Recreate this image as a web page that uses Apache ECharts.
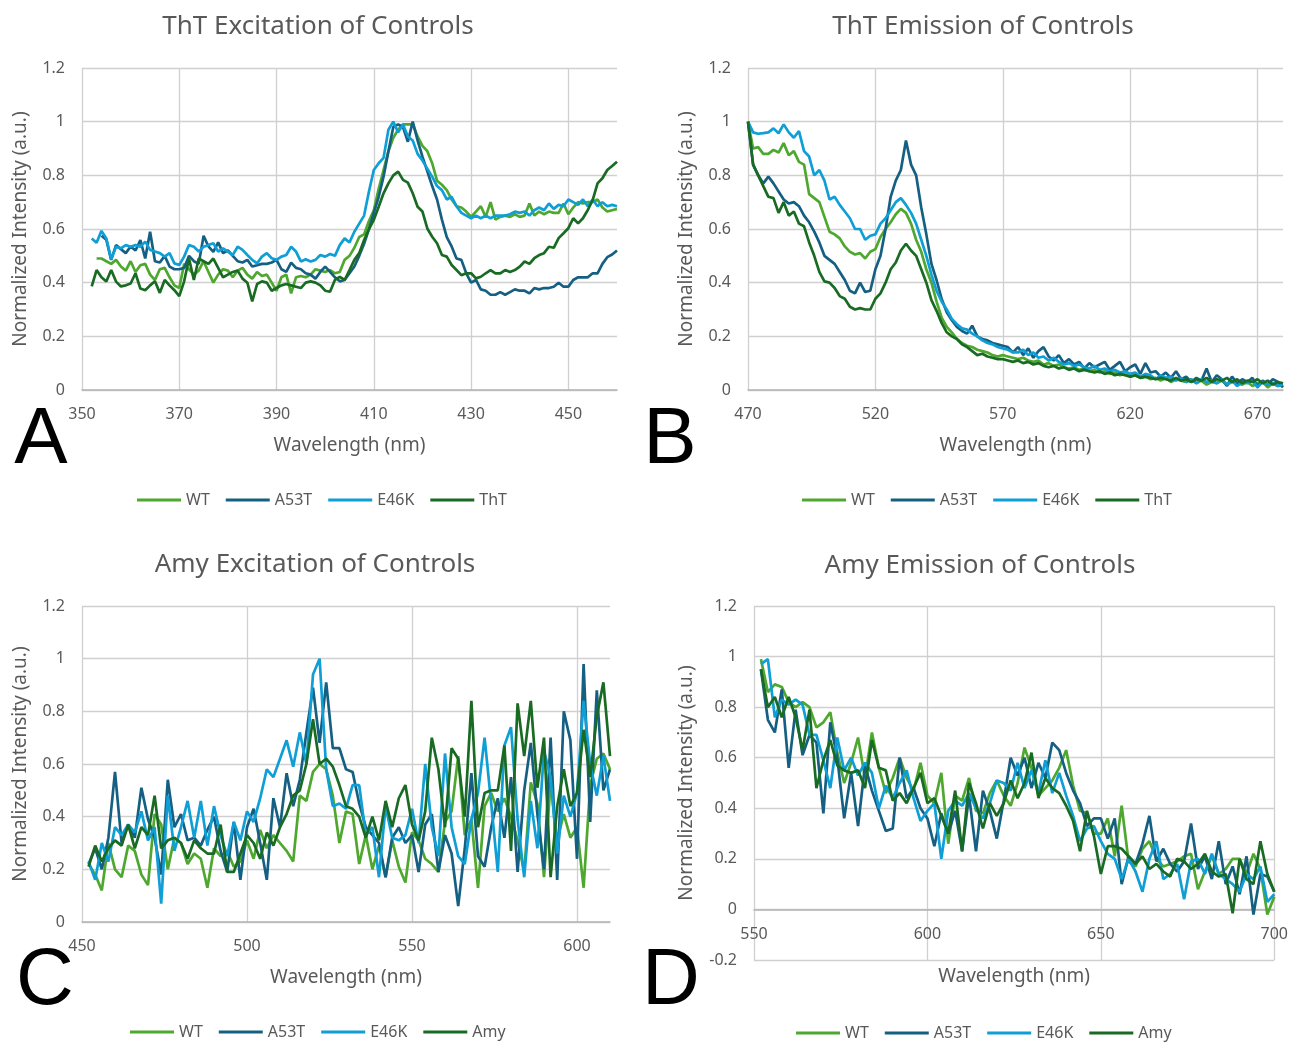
<!DOCTYPE html>
<html>
<head>
<meta charset="utf-8">
<script src="https://cdn.jsdelivr.net/npm/echarts@6.0.0/dist/echarts.min.js"></script>
<style>
  html, body { margin: 0; padding: 0; background: #fff; }
  #chart { width: 1291px; height: 1042px; }
</style>
</head>
<body>
<div id="chart"></div>
<script>
/* ---- data ---- */

/* A: ThT excitation, 1 nm steps */
var exThT_step = 1;
var exThT_start = { WT: 353, A53T: 354, E46K: 352, ThT: 352 };
var exThT_WT = [0.49,0.49,0.48,0.47,0.485,0.46,0.445,0.48,0.44,0.465,0.47,0.43,0.41,0.45,0.455,0.42,0.39,0.38,0.47,0.45,0.43,0.445,0.48,0.44,0.40,0.43,0.45,0.445,0.42,0.445,0.455,0.43,0.415,0.44,0.425,0.43,0.40,0.37,0.42,0.43,0.36,0.42,0.425,0.42,0.43,0.45,0.445,0.44,
  0.447,0.435,0.44,0.485,0.50,0.53,0.57,0.58,0.63,0.67,0.75,0.82,0.89,0.94,0.97,0.99,0.99,0.99,0.945,0.91,0.89,0.845,0.78,0.765,0.745,0.71,0.685,0.68,0.665,0.645,0.665,0.685,0.645,0.70,0.635,0.645,0.65,0.645,0.655,0.645,0.65,0.695,0.65,0.665,0.655,0.665,0.66,0.66,0.695,0.655,0.68,0.70,0.695,0.70,0.70,0.71,0.68,0.665,0.67,0.675];
var exThT_A53T = [0.575,0.56,0.485,0.54,0.525,0.51,0.535,0.52,0.559,0.49,0.59,0.48,0.475,0.50,0.46,0.45,0.45,0.455,0.50,0.48,0.47,0.575,0.535,0.515,0.55,0.51,0.52,0.50,0.48,0.475,0.485,0.46,0.465,0.47,0.47,0.475,0.485,0.45,0.44,0.475,0.455,0.45,0.435,0.43,0.415,0.44,0.46,
  0.44,0.42,0.405,0.41,0.435,0.46,0.50,0.545,0.60,0.66,0.72,0.795,0.89,0.98,0.99,0.98,0.925,1.0,0.93,0.87,0.815,0.76,0.71,0.635,0.57,0.535,0.49,0.485,0.435,0.40,0.41,0.375,0.37,0.355,0.355,0.365,0.355,0.365,0.375,0.37,0.37,0.36,0.38,0.375,0.38,0.38,0.385,0.40,0.385,0.385,0.41,0.42,0.42,0.42,0.435,0.435,0.47,0.495,0.505,0.52];
var exThT_E46K = [0.565,0.549,0.593,0.565,0.487,0.534,0.528,0.540,0.534,0.540,0.534,0.553,0.522,0.516,0.510,0.497,0.510,0.472,0.466,0.497,0.540,0.534,0.516,0.534,0.540,0.547,0.516,0.528,0.516,0.503,0.534,0.522,0.503,0.485,0.472,0.497,0.510,0.491,0.485,0.497,0.503,0.534,0.516,0.479,0.487,0.479,0.485,0.503,0.497,
  0.507,0.50,0.54,0.565,0.55,0.59,0.62,0.65,0.74,0.82,0.845,0.865,0.97,1.0,0.96,0.99,0.945,0.93,0.88,0.855,0.825,0.795,0.76,0.745,0.71,0.72,0.685,0.66,0.65,0.64,0.65,0.64,0.65,0.64,0.65,0.65,0.65,0.655,0.665,0.66,0.665,0.65,0.67,0.68,0.67,0.695,0.675,0.69,0.685,0.71,0.70,0.69,0.71,0.685,0.71,0.685,0.70,0.685,0.69,0.685];
var exThT_ThT = [0.386,0.447,0.42,0.404,0.447,0.404,0.386,0.39,0.397,0.435,0.378,0.372,0.39,0.405,0.362,0.41,0.39,0.372,0.35,0.405,0.49,0.41,0.49,0.48,0.47,0.49,0.455,0.42,0.43,0.44,0.445,0.415,0.40,0.33,0.395,0.405,0.40,0.37,0.38,0.39,0.395,0.39,0.385,0.38,0.40,0.405,0.40,0.39,0.37,
  0.366,0.41,0.422,0.41,0.447,0.485,0.51,0.559,0.60,0.634,0.683,0.733,0.77,0.80,0.814,0.783,0.773,0.733,0.683,0.665,0.602,0.571,0.547,0.503,0.497,0.466,0.447,0.428,0.435,0.435,0.416,0.422,0.435,0.447,0.435,0.435,0.447,0.44,0.447,0.46,0.479,0.47,0.491,0.503,0.51,0.534,0.53,0.566,0.584,0.603,0.64,0.621,0.64,0.671,0.708,0.77,0.789,0.82,0.835,0.851];

/* B: ThT emission, 2 nm steps from 470 */
var emThT_step = 2;
var emThT_start = { WT: 470, A53T: 470, E46K: 470, ThT: 470 };
var emThT_WT = [1.0,0.90,0.905,0.88,0.88,0.895,0.885,0.92,0.875,0.89,0.85,0.84,0.73,0.715,0.70,0.645,0.59,0.58,0.565,0.535,0.515,0.505,0.51,0.49,0.515,0.525,0.57,0.60,0.625,0.655,0.675,0.66,0.62,0.56,0.515,0.45,0.40,0.33,0.27,0.235,0.215,0.19,0.175,0.165,0.16,0.15,0.145,0.14,0.13,0.125,0.13,0.125,0.12,
  0.115,0.12,0.11,0.105,0.11,0.095,0.10,0.09,0.095,0.085,0.08,0.085,0.075,0.08,0.07,0.075,0.065,0.07,0.06,0.065,0.055,0.06,0.05,0.055,0.045,0.05,0.04,0.045,0.035,0.045,0.03,0.04,0.035,0.03,0.04,0.025,0.035,0.02,0.03,0.025,0.035,0.02,0.03,0.025,0.02,0.03,0.015,0.025,0.03,0.01,0.025,0.015,0.02];
var emThT_A53T = [1.0,0.84,0.80,0.77,0.795,0.77,0.74,0.71,0.695,0.70,0.685,0.65,0.625,0.59,0.55,0.50,0.485,0.47,0.44,0.41,0.37,0.36,0.40,0.365,0.37,0.45,0.50,0.60,0.72,0.78,0.82,0.93,0.84,0.80,0.68,0.58,0.47,0.41,0.34,0.29,0.26,0.235,0.22,0.21,0.24,0.20,0.19,0.185,0.175,0.17,0.165,0.16,0.14,
  0.16,0.13,0.155,0.12,0.145,0.16,0.125,0.11,0.13,0.10,0.115,0.095,0.105,0.08,0.10,0.085,0.095,0.105,0.075,0.09,0.105,0.07,0.085,0.095,0.06,0.10,0.065,0.07,0.05,0.065,0.045,0.07,0.04,0.05,0.03,0.045,0.035,0.08,0.03,0.055,0.04,0.015,0.05,0.025,0.04,0.03,0.045,0.015,0.035,0.02,0.04,0.03,0.01];
var emThT_E46K = [1.0,0.96,0.955,0.957,0.96,0.975,0.957,0.99,0.96,0.94,0.965,0.89,0.87,0.80,0.82,0.78,0.71,0.72,0.69,0.665,0.64,0.60,0.60,0.56,0.575,0.58,0.62,0.64,0.67,0.70,0.715,0.69,0.66,0.62,0.56,0.50,0.43,0.37,0.33,0.30,0.265,0.245,0.23,0.225,0.21,0.20,0.185,0.175,0.17,0.16,0.155,0.15,0.14,
  0.14,0.15,0.13,0.14,0.12,0.125,0.11,0.12,0.105,0.095,0.10,0.09,0.095,0.085,0.08,0.09,0.075,0.08,0.07,0.075,0.065,0.07,0.06,0.065,0.05,0.06,0.055,0.04,0.055,0.045,0.05,0.035,0.045,0.03,0.04,0.025,0.04,0.03,0.035,0.025,0.04,0.02,0.035,0.015,0.03,0.025,0.035,0.01,0.03,0.02,0.025,0.015,0.02];
var emThT_ThT = [1.0,0.84,0.80,0.76,0.72,0.715,0.66,0.70,0.65,0.665,0.62,0.61,0.55,0.50,0.44,0.405,0.40,0.38,0.35,0.34,0.31,0.30,0.305,0.30,0.30,0.34,0.36,0.40,0.45,0.475,0.52,0.545,0.52,0.50,0.45,0.40,0.335,0.295,0.25,0.215,0.20,0.19,0.17,0.16,0.145,0.13,0.135,0.125,0.12,0.115,0.115,0.11,0.105,
  0.11,0.10,0.105,0.095,0.10,0.09,0.085,0.09,0.08,0.085,0.075,0.08,0.07,0.075,0.07,0.065,0.07,0.06,0.065,0.055,0.06,0.055,0.05,0.055,0.045,0.05,0.045,0.04,0.045,0.04,0.035,0.045,0.035,0.04,0.03,0.04,0.035,0.045,0.03,0.04,0.035,0.045,0.03,0.04,0.025,0.035,0.03,0.04,0.025,0.035,0.02,0.03,0.025];

/* C: Amy excitation, 2 nm steps from 452 */
var exAmy_step = 2;
var exAmy_start = { WT: 452, A53T: 452, E46K: 452, Amy: 452 };
var exAmy_WT = [0.22,0.18,0.12,0.30,0.20,0.17,0.29,0.27,0.18,0.14,0.41,0.37,0.20,0.32,0.30,0.22,0.26,0.24,0.13,0.28,0.25,0.27,0.21,0.23,0.31,0.24,0.35,0.28,0.33,0.30,0.27,0.23,0.48,0.46,0.57,0.60,0.58,0.48,0.30,0.42,
  0.41,0.22,0.33,0.20,0.29,0.17,0.31,0.21,0.15,0.34,0.31,0.24,0.22,0.19,0.38,0.42,0.63,0.33,0.39,0.13,0.44,0.49,0.42,0.47,0.40,0.31,0.19,0.53,0.45,0.17,0.53,0.31,0.41,0.32,0.36,0.13,0.52,0.62,0.64,0.58];
var exAmy_A53T = [0.22,0.28,0.20,0.32,0.57,0.30,0.37,0.32,0.51,0.39,0.32,0.18,0.54,0.36,0.41,0.31,0.32,0.29,0.35,0.40,0.27,0.19,0.38,0.16,0.36,0.43,0.30,0.16,0.47,0.36,0.565,0.44,0.54,0.72,0.89,0.68,0.91,0.66,0.66,0.58,
  0.57,0.45,0.36,0.33,0.30,0.17,0.32,0.36,0.30,0.33,0.19,0.37,0.41,0.19,0.33,0.26,0.06,0.28,0.565,0.25,0.21,0.36,0.47,0.32,0.55,0.19,0.50,0.68,0.41,0.20,0.70,0.16,0.80,0.69,0.24,0.98,0.38,0.88,0.50,0.58];
var exAmy_E46K = [0.23,0.16,0.30,0.23,0.36,0.33,0.37,0.34,0.42,0.31,0.36,0.07,0.48,0.27,0.36,0.46,0.32,0.46,0.29,0.44,0.33,0.25,0.38,0.31,0.42,0.38,0.47,0.58,0.55,0.62,0.69,0.59,0.72,0.60,0.94,1.0,0.58,0.44,0.45,0.43,
  0.52,0.52,0.33,0.36,0.17,0.44,0.32,0.31,0.33,0.43,0.30,0.60,0.36,0.25,0.64,0.36,0.25,0.22,0.39,0.49,0.70,0.45,0.19,0.67,0.74,0.39,0.17,0.46,0.28,0.65,0.55,0.26,0.48,0.40,0.49,0.84,0.60,0.48,0.63,0.46];
var exAmy_Amy = [0.21,0.29,0.23,0.28,0.31,0.29,0.37,0.28,0.36,0.33,0.48,0.28,0.31,0.32,0.30,0.24,0.31,0.28,0.26,0.26,0.37,0.19,0.19,0.26,0.33,0.30,0.24,0.34,0.29,0.36,0.41,0.48,0.50,0.60,0.77,0.60,0.62,0.59,0.52,0.44,
  0.43,0.40,0.32,0.40,0.31,0.46,0.36,0.47,0.52,0.37,0.31,0.42,0.70,0.58,0.36,0.66,0.62,0.40,0.84,0.36,0.49,0.50,0.50,0.67,0.27,0.83,0.63,0.84,0.51,0.70,0.17,0.44,0.58,0.44,0.49,0.73,0.55,0.78,0.91,0.63];

/* D: Amy emission, 2 nm steps from 552 */
var emAmy_step = 2;
var emAmy_start = { WT: 552, A53T: 552, E46K: 552, Amy: 552 };
var emAmy_WT = [0.99,0.86,0.89,0.88,0.82,0.80,0.82,0.80,0.72,0.74,0.78,0.62,0.50,0.58,0.68,0.52,0.70,0.56,0.46,0.52,0.60,0.52,0.47,0.58,0.45,0.42,0.54,0.26,0.45,0.43,0.52,0.39,0.38,0.46,0.51,0.45,0.41,0.50,
  0.64,0.56,0.45,0.48,0.51,0.56,0.63,0.49,0.39,0.38,0.30,0.30,0.36,0.21,0.41,0.19,0.17,0.24,0.27,0.20,0.17,0.18,0.19,0.21,0.22,0.08,0.15,0.21,0.14,0.16,0.20,0.20,0.14,0.22,0.16,-0.02,0.05];
var emAmy_A53T = [0.95,0.75,0.70,0.87,0.56,0.79,0.61,0.69,0.66,0.38,0.74,0.60,0.36,0.54,0.33,0.57,0.47,0.39,0.31,0.32,0.60,0.44,0.48,0.40,0.36,0.25,0.38,0.30,0.39,0.23,0.45,0.23,0.47,0.39,0.28,0.43,0.60,0.53,
  0.60,0.48,0.58,0.52,0.66,0.63,0.54,0.47,0.42,0.33,0.36,0.36,0.28,0.36,0.10,0.21,0.18,0.26,0.37,0.19,0.24,0.18,0.15,0.19,0.34,0.16,0.21,0.12,0.27,0.10,0.17,0.06,0.21,-0.02,0.14,0.13,0.07];
var emAmy_E46K = [0.97,0.99,0.76,0.83,0.81,0.83,0.81,0.69,0.69,0.59,0.48,0.68,0.55,0.60,0.53,0.58,0.54,0.40,0.49,0.44,0.50,0.55,0.44,0.35,0.39,0.42,0.20,0.39,0.43,0.41,0.46,0.40,0.36,0.42,0.51,0.50,0.47,0.58,
  0.48,0.55,0.46,0.59,0.46,0.54,0.45,0.37,0.27,0.32,0.33,0.27,0.22,0.20,0.12,0.20,0.15,0.07,0.20,0.27,0.12,0.14,0.18,0.04,0.19,0.20,0.14,0.22,0.14,0.12,0.10,0.07,0.14,0.12,0.17,0.03,0.06];
var emAmy_Amy = [0.95,0.80,0.84,0.76,0.84,0.76,0.63,0.79,0.48,0.59,0.67,0.57,0.55,0.54,0.55,0.48,0.67,0.56,0.55,0.43,0.46,0.42,0.48,0.54,0.42,0.44,0.37,0.30,0.47,0.23,0.50,0.42,0.32,0.42,0.37,0.42,0.51,0.44,
  0.50,0.62,0.44,0.52,0.48,0.46,0.41,0.35,0.23,0.39,0.29,0.14,0.25,0.25,0.24,0.21,0.18,0.21,0.16,0.18,0.15,0.13,0.20,0.19,0.16,0.18,0.22,0.15,0.13,0.14,-0.015,0.20,0.12,0.10,0.27,0.14,0.07];

/* axis ranges (nm) and tick steps */
var xRangeA = [350, 460], xTickA = 20;
var xRangeB = [470, 680], xTickB = 50;
var xRangeC = [450, 610], xTickC = 50;
var xRangeD = [550, 700], xTickD = 50;
var yTicks = ['-0.2', '0', '0.2', '0.4', '0.6', '0.8', '1', '1.2'];

/* ---- styling ---- */
var font = 'Noto Sans';
var grey = '#595959';
var gridGrey = '#d0d0d0';
var seriesColor = { WT: '#4EA72E', A53T: '#156082', E46K: '#0F9ED5', ThT: '#196B24', Amy: '#196B24' };

// axis counts from 0, labels add the start wavelength back
function pairs(start, step, vals, offset) {
	return vals.map(function (v, i) { return [start + i * step - offset, v]; });
}

var panels = [
	{ title: 'ThT Excitation of Controls', letter: 'A', names: ['WT', 'A53T', 'E46K', 'ThT'],
	  start: exThT_start, step: exThT_step, data: { WT: exThT_WT, A53T: exThT_A53T, E46K: exThT_E46K, ThT: exThT_ThT },
	  range: xRangeA, tick: xTickA, ymin: 0, maxLine: false, xShift: 0,
	  grid: { left: 82, top: 68, width: 535, height: 322 }, yGap: 52, xGap: 46,
	  titlePos: [318, 14], legendPos: [137, 492], letterPos: [41, 441] },
	{ title: 'ThT Emission of Controls', letter: 'B', names: ['WT', 'A53T', 'E46K', 'ThT'],
	  start: emThT_start, step: emThT_step, data: { WT: emThT_WT, A53T: emThT_A53T, E46K: emThT_E46K, ThT: emThT_ThT },
	  range: xRangeB, tick: xTickB, ymin: 0, maxLine: false, xShift: 0,
	  grid: { left: 748, top: 68, width: 535, height: 322 }, yGap: 52, xGap: 46,
	  titlePos: [983, 14], legendPos: [802, 492], letterPos: [670, 441] },
	{ title: 'Amy Excitation of Controls', letter: 'C', names: ['WT', 'A53T', 'E46K', 'Amy'],
	  start: exAmy_start, step: exAmy_step, data: { WT: exAmy_WT, A53T: exAmy_A53T, E46K: exAmy_E46K, Amy: exAmy_Amy },
	  range: xRangeC, tick: xTickC, ymin: 0, maxLine: false, xShift: 0,
	  grid: { left: 82, top: 606, width: 528, height: 316 }, yGap: 52, xGap: 46,
	  titlePos: [315, 552], legendPos: [130, 1024], letterPos: [45, 982] },
	{ title: 'Amy Emission of Controls', letter: 'D', names: ['WT', 'A53T', 'E46K', 'Amy'],
	  start: emAmy_start, step: emAmy_step, data: { WT: emAmy_WT, A53T: emAmy_A53T, E46K: emAmy_E46K, Amy: emAmy_Amy },
	  range: xRangeD, tick: xTickD, ymin: -0.2, maxLine: true, xShift: -50,
	  grid: { left: 754, top: 606, width: 521, height: 354 }, yGap: 58, xGap: 57,
	  titlePos: [980, 553], legendPos: [796, 1025], letterPos: [671, 982] }
];

var option = {
	animation: false,
	backgroundColor: '#fff',
	textStyle: { fontFamily: font },
	title: [], grid: [], xAxis: [], yAxis: [], legend: [], series: [], graphic: []
};

panels.forEach(function (p, k) {
	var off = p.range[0];
	option.title.push({
		text: p.title, left: p.titlePos[0], top: p.titlePos[1], textAlign: 'center', padding: 0,
		textStyle: { fontFamily: font, fontSize: 26, fontWeight: 'normal', color: grey }
	});
	option.grid.push(Object.assign({ containLabel: false }, p.grid));
	option.xAxis.push({
		gridIndex: k, type: 'value', position: 'bottom', offset: p.xShift,
		min: 0, max: p.range[1] - off, interval: p.tick,
		name: 'Wavelength (nm)', nameLocation: 'middle', nameGap: p.xGap,
		nameTextStyle: { fontFamily: font, fontSize: 19, color: grey },
		axisLine: { onZero: false, lineStyle: { color: '#b4b4b4', width: 1.5 } },
		axisTick: { show: false },
		axisLabel: { margin: 16, fontSize: 16, color: grey, showMaxLabel: p.maxLine,
			formatter: function (v) { return String(v + off); } },
		splitLine: { show: true, showMaxLine: p.maxLine, lineStyle: { color: gridGrey, width: 1.3 } }
	});
	option.yAxis.push({
		gridIndex: k, type: 'value', min: p.ymin, max: 1.2, interval: 0.2,
		name: 'Normalized Intensity (a.u.)', nameLocation: 'middle', nameGap: p.yGap,
		nameTextStyle: { fontFamily: font, fontSize: 19, color: grey },
		axisLine: { show: false }, axisTick: { show: false },
		axisLabel: { margin: 17, fontSize: 16, color: grey,
			formatter: function (v) { return yTicks[Math.round((v + 0.2) / 0.2)]; } },
		splitLine: { show: true, lineStyle: { color: gridGrey, width: 1.3 } }
	});
	option.legend.push({
		data: p.names, left: p.legendPos[0], top: p.legendPos[1], orient: 'horizontal',
		icon: 'rect', itemWidth: 44, itemHeight: 3, itemGap: 16, padding: 0,
		textStyle: { fontFamily: font, fontSize: 16, color: grey }
	});
	p.names.forEach(function (n) {
		option.series.push({
			name: n, type: 'line', xAxisIndex: k, yAxisIndex: k,
			symbol: 'none', smooth: false, silent: true,
			lineStyle: { color: seriesColor[n], width: 2.7 },
			itemStyle: { color: seriesColor[n] },
			data: pairs(p.start[n], p.step, p.data[n], off)
		});
	});
	option.graphic.push({
		type: 'text', x: p.letterPos[0], y: p.letterPos[1], silent: true,
		style: { text: p.letter, fontFamily: 'Liberation Sans', fontSize: 80, fill: '#000',
			textAlign: 'center', textVerticalAlign: 'middle' }
	});
});

var chart = echarts.init(document.getElementById('chart'), null, { renderer: 'canvas' });
chart.setOption(option);
</script>
</body>
</html>
